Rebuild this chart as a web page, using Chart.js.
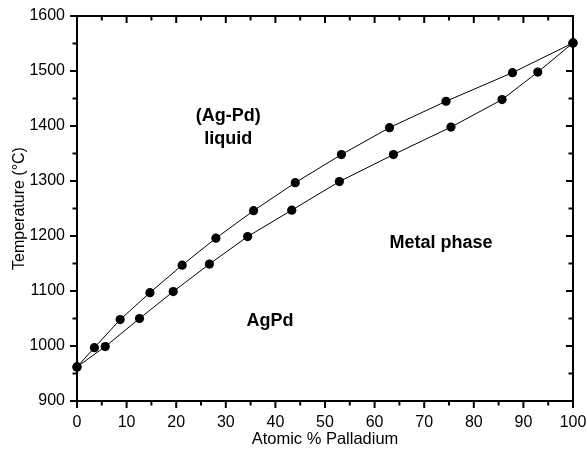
<!DOCTYPE html>
<html>
<head>
<meta charset="utf-8">
<script src="https://cdn.jsdelivr.net/npm/chart.js@4.4.1/dist/chart.umd.min.js"></script>
<style>
  html, body { margin: 0; padding: 0; background: #ffffff; }
  #wrap { width: 587px; height: 452px; }
</style>
</head>
<body>
<div id="wrap"><canvas id="c" width="587" height="452"></canvas></div>
<script>
// ---- Data ----
const liquidusX = [0, 3.5, 8.7, 14.7, 21.2, 28.0, 35.6, 44.0, 53.3, 63.0, 74.4, 87.8, 100];
const liquidusT = [962, 997, 1048, 1097, 1147, 1196, 1246, 1297, 1348, 1397, 1445, 1497, 1551];
const solidusX  = [0, 5.7, 12.6, 19.4, 26.7, 34.4, 43.3, 52.9, 63.8, 75.4, 85.7, 92.9, 100];
const solidusT  = [962, 999, 1050, 1099, 1149, 1199, 1247, 1299, 1348, 1398, 1448, 1498, 1551];

const xTickValues = [0, 10, 20, 30, 40, 50, 60, 70, 80, 90, 100];
const yTickValues = [900, 1000, 1100, 1200, 1300, 1400, 1500, 1600];

const xTitle = 'Atomic % Palladium';
const yTitle = 'Temperature (\u00B0C)';

const regionLabels = ['(Ag-Pd)', 'liquid', 'Metal phase', 'AgPd'];
const regionLabelX = [30.5, 30.5, 73.4, 38.9];
const regionLabelY = [1418, 1376, 1187, 1045];

function toPoints(xs, ys) { return xs.map((x, i) => ({ x: x, y: ys[i] })); }

const FONT = '"Liberation Sans", Arial, Helvetica, sans-serif';

// Draw frame, inward/outward tick marks and region labels
const framePlugin = {
  id: 'frame',
  afterDraw(chart) {
    const ctx = chart.ctx;
    const a = chart.chartArea;
    const xs = chart.scales.x, ys = chart.scales.y;
    ctx.save();
    ctx.strokeStyle = '#000';
    ctx.lineWidth = 2;
    ctx.lineCap = 'square';
    ctx.beginPath();
    ctx.moveTo(a.left, a.bottom); ctx.lineTo(a.left, a.top);
    ctx.lineTo(a.right, a.top); ctx.lineTo(a.right, a.bottom);
    ctx.lineTo(a.left, a.bottom);
    ctx.stroke();
    ctx.lineCap = 'butt';
    // x ticks (major every 10, minor every 5)
    for (let v = 0; v <= 100; v += 5) {
      const major = v % 10 === 0;
      const len = major ? 7 : 4.5;
      const px = xs.getPixelForValue(v);
      ctx.beginPath();
      ctx.moveTo(px, a.bottom); ctx.lineTo(px, a.bottom + len); // outward bottom
      ctx.moveTo(px, a.top); ctx.lineTo(px, a.top + len);       // inward top
      ctx.stroke();
    }
    for (let v = 900; v <= 1600; v += 50) {
      const major = v % 100 === 0;
      const len = major ? 7 : 4.5;
      const py = ys.getPixelForValue(v);
      ctx.beginPath();
      ctx.moveTo(a.left, py); ctx.lineTo(a.left - len, py);     // outward left
      ctx.moveTo(a.right, py); ctx.lineTo(a.right - len, py);   // inward right
      ctx.stroke();
    }
    // region labels
    ctx.fillStyle = '#000';
    ctx.font = 'bold 18px ' + FONT;
    ctx.textAlign = 'center';
    ctx.textBaseline = 'middle';
    regionLabels.forEach((t, i) => {
      ctx.fillText(t, xs.getPixelForValue(regionLabelX[i]), ys.getPixelForValue(regionLabelY[i]));
    });
    ctx.restore();
  }
};

const common = {
  showLine: true,
  tension: 0,
  borderColor: '#000',
  borderWidth: 1,
  pointRadius: 4.6,
  pointHoverRadius: 4.6,
  pointBackgroundColor: '#000',
  pointBorderColor: '#000',
  pointBorderWidth: 0,
  clip: false
};

new Chart(document.getElementById('c'), {
  type: 'scatter',
  data: {
    datasets: [
      Object.assign({ label: 'Liquidus', data: toPoints(liquidusX, liquidusT) }, common),
      Object.assign({ label: 'Solidus', data: toPoints(solidusX, solidusT) }, common)
    ]
  },
  options: {
    responsive: false,
    animation: false,
    devicePixelRatio: 1,
    events: [],
    layout: { padding: { left: 0, right: 14, top: 16, bottom: 0 } },
    plugins: {
      legend: { display: false },
      tooltip: { enabled: false },
      title: { display: false }
    },
    scales: {
      x: {
        type: 'linear',
        min: 0, max: 100,
        afterBuildTicks: (s) => { s.ticks = xTickValues.map(v => ({ value: v })); },
        afterFit: (s) => { s.height = 51; s.paddingLeft = 0; s.paddingRight = 0; },
        grid: { display: false, drawTicks: false },
        border: { display: false },
        ticks: { color: '#000', font: { family: FONT, size: 16 }, padding: 12, maxRotation: 0, autoSkip: false,
                 callback: (v) => String(v) },
        title: { display: true, text: xTitle, color: '#000', font: { family: FONT, size: 16.5 }, padding: { top: 0, bottom: 3 } }
      },
      y: {
        type: 'linear',
        min: 900, max: 1600,
        afterBuildTicks: (s) => { s.ticks = yTickValues.map(v => ({ value: v })); },
        afterFit: (s) => { s.width = 77; s.paddingTop = 0; s.paddingBottom = 0; },
        grid: { display: false, drawTicks: false },
        border: { display: false },
        ticks: { color: '#000', font: { family: FONT, size: 16 }, padding: 12, autoSkip: false,
                 callback: (v) => String(v) },
        title: { display: true, text: yTitle, color: '#000', font: { family: FONT, size: 16 }, padding: { top: 10, bottom: 0 } }
      }
    }
  },
  plugins: [framePlugin]
});
</script>
</body>
</html>
